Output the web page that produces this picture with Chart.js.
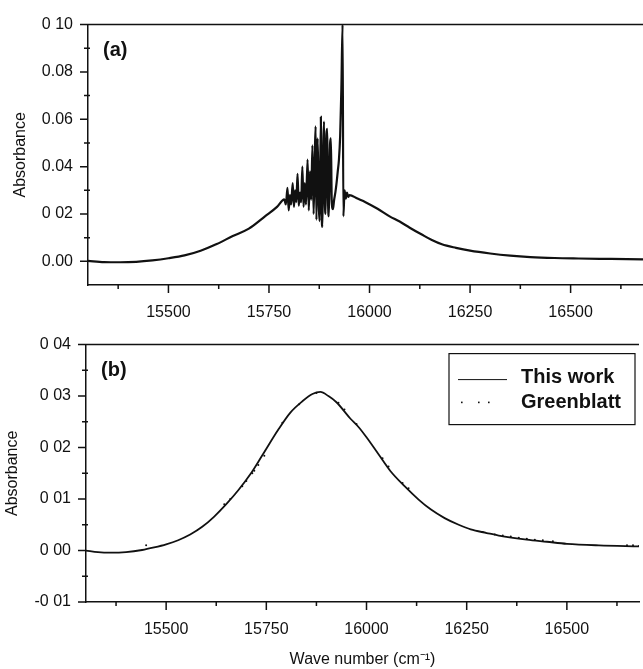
<!DOCTYPE html>
<html>
<head>
<meta charset="utf-8">
<script src="https://cdn.jsdelivr.net/npm/chart.js@4.4.1/dist/chart.umd.min.js"></script>
<style>
  body { margin: 0; background: #fff; }
  #wrapA { position: absolute; left: 0; top: 0; width: 643px; height: 320px; }
  #wrapB { position: absolute; left: 0; top: 320px; width: 643px; height: 349px; }
</style>
</head>
<body>
<div id="wrapA"><canvas id="chartA"></canvas></div>
<div id="wrapB"><canvas id="chartB"></canvas></div>
<script>
// panel (a): measured spectrum, wave number (cm-1) / absorbance
var waveA = [15300, 15340, 15380, 15420, 15460, 15500, 15540, 15580, 15620, 15660,
  15700, 15740, 15770, 15788, 15792, 15796, 15799, 15802, 15805, 15809,
  15812, 15815, 15818, 15821, 15824, 15827, 15830, 15833, 15836, 15839,
  15842, 15846, 15849, 15852, 15855, 15858, 15861, 15864, 15866, 15868,
  15871, 15874, 15876, 15879, 15881, 15883, 15885, 15887, 15889, 15891,
  15893, 15895, 15897, 15899, 15902, 15904, 15906, 15909, 15912, 15915,
  15918, 15921, 15924, 15927, 15930, 15933, 15935, 15938, 15941, 15944,
  15947, 15950, 15970, 15990, 16020, 16050, 16075, 16100, 16130, 16155,
  16180, 16215, 16250, 16300, 16350, 16400, 16460, 16520, 16600, 16680]
var absA = [0.0002, -0.0003, -0.0004, -0.0002, 0.0004, 0.0013, 0.0025, 0.0045, 0.0073, 0.0107,
  0.0138, 0.0190, 0.0230, 0.0262, 0.0240, 0.0310, 0.0215, 0.0280, 0.0240, 0.0330,
  0.0230, 0.0300, 0.0250, 0.0370, 0.0235, 0.0290, 0.0250, 0.0400, 0.0230, 0.0330,
  0.0240, 0.0430, 0.0215, 0.0380, 0.0260, 0.0490, 0.0200, 0.0450, 0.0570, 0.0175,
  0.0520, 0.0230, 0.0170, 0.0610, 0.0200, 0.0145, 0.0480, 0.0590, 0.0250, 0.0200,
  0.0540, 0.0560, 0.0240, 0.0190, 0.0500, 0.0520, 0.0260, 0.0220, 0.0260, 0.0290,
  0.0330, 0.0380, 0.0430, 0.0530, 0.0730, 0.1000, 0.0190, 0.0300, 0.0265, 0.0290,
  0.0272, 0.0280, 0.0265, 0.0250, 0.0222, 0.0190, 0.0168, 0.0142, 0.0113, 0.0090,
  0.0072, 0.0057, 0.0045, 0.0033, 0.0024, 0.0018, 0.0014, 0.0012, 0.0010, 0.0008]

// panel (b): this work
var waveB = [15300, 15330, 15360, 15400, 15440, 15470, 15500, 15530, 15560, 15590,
  15620, 15650, 15680, 15710, 15740, 15780, 15810, 15840, 15865, 15885,
  15905, 15925, 15960, 15980, 16000, 16030, 16060, 16095, 16130, 16160,
  16195, 16230, 16260, 16300, 16330, 16400, 16450, 16500, 16580, 16680]
var absB = [0.0000, -0.0003, -0.0004, -0.0003, 0.0001, 0.0006, 0.0012, 0.0020, 0.0031, 0.0046,
  0.0066, 0.0090, 0.0117, 0.0148, 0.0185, 0.0235, 0.0268, 0.0290, 0.0304, 0.0308,
  0.0300, 0.0288, 0.0256, 0.0240, 0.0220, 0.0187, 0.0154, 0.0125, 0.0099, 0.0080,
  0.0063, 0.0050, 0.0041, 0.0034, 0.0029, 0.0021, 0.0017, 0.0013, 0.0010, 0.0008]

// panel (b): Greenblatt
var waveG = [15450, 15645, 15660, 15690, 15700, 15715, 15720, 15730, 15745, 15790,
  15832, 15875, 15930, 15945, 15975, 16040, 16055, 16090, 16105, 16290,
  16320, 16340, 16360, 16380, 16400, 16420, 16440, 16465, 16650, 16665, 16680]
var absG = [0.0010, 0.0090, 0.0100, 0.0125, 0.0135, 0.0150, 0.0155, 0.0166, 0.0184, 0.0248,
  0.0284, 0.0306, 0.0287, 0.0274, 0.0246, 0.0179, 0.0163, 0.0131, 0.0121, 0.0036,
  0.0031, 0.0029, 0.0027, 0.0025, 0.0023, 0.0021, 0.0020, 0.0018, 0.0010, 0.0010, 0.0009]

// axes
var xTicks = [15500, 15750, 16000, 16250, 16500]
var xMinor = [15375, 15625, 15875, 16125, 16375, 16625]
var yTicksA = [0, 0.02, 0.04, 0.06, 0.08, 0.10]
var yLabelsA = ['0.00', '0 02', '0.04', '0.06', '0.08', '0 10']
var yMinorA = [0.01, 0.03, 0.05, 0.07, 0.09]
var yTicksB = [-0.01, 0, 0.01, 0.02, 0.03, 0.04]
var yLabelsB = ['-0 01', '0 00', '0 01', '0 02', '0 03', '0 04']
var yMinorB = [-0.005, 0.005, 0.015, 0.025, 0.035]

Chart.defaults.font.family = '"Liberation Sans", Arial, sans-serif'
Chart.defaults.font.size = 16
Chart.defaults.color = '#111'

function pairs (xs, ys) {
  return xs.map(function (x, i) { return { x: x, y: ys[i] } })
}

// top border, tick marks, panel tag and boxed legend
var frameTicks = {
  id: 'frameTicks',
  afterDraw: function (chart, args, opts) {
    var ctx = chart.ctx, a = chart.chartArea
    var xs = chart.scales.x, ys = chart.scales.y
    ctx.save()
    ctx.strokeStyle = '#111'
    ctx.lineWidth = 1.5
    ctx.beginPath()
    ctx.moveTo(a.left, a.top); ctx.lineTo(a.right, a.top)
    xTicks.forEach(function (v) { var p = xs.getPixelForValue(v); ctx.moveTo(p, a.bottom); ctx.lineTo(p, a.bottom + 8) })
    xMinor.forEach(function (v) { var p = xs.getPixelForValue(v); ctx.moveTo(p, a.bottom); ctx.lineTo(p, a.bottom + 4) })
    opts.yMajor.forEach(function (v) { var p = ys.getPixelForValue(v); ctx.moveTo(a.left, p); ctx.lineTo(a.left - 8, p) })
    opts.yMinor.forEach(function (v) { var p = ys.getPixelForValue(v); ctx.moveTo(a.left + 2, p); ctx.lineTo(a.left - 4, p) })
    ctx.stroke()

    ctx.fillStyle = '#111'
    ctx.font = 'bold 20px "Liberation Sans", Arial, sans-serif'
    ctx.textBaseline = 'middle'
    ctx.fillText(opts.tag, a.left + 15, a.top + 26)

    if (opts.legend) {
      var bx = a.right - 190, by = a.top + 9
      ctx.lineWidth = 1.2
      ctx.strokeRect(bx, by, 186, 71)
      var ds = chart.data.datasets
      ctx.beginPath()
      ctx.lineWidth = 1
      ctx.moveTo(bx + 9, by + 26); ctx.lineTo(bx + 58, by + 26)
      ctx.stroke()
      ;[12, 29, 39].forEach(function (d) { ctx.fillRect(bx + d, by + 48, 1.6, 1.6) })
      ctx.fillText(ds[0].label, bx + 72, by + 24)
      ctx.fillText(ds[1].label, bx + 72, by + 49)
    }
    ctx.restore()
  }
}

function xScale (withTitle, h) {
  return {
    type: 'linear', min: 15300, max: 16680,
    afterBuildTicks: function (s) { s.ticks = xTicks.map(function (v) { return { value: v } }) },
    afterFit: function (s) { s.height = h },
    grid: { display: false, drawTicks: false },
    border: { display: true, color: '#111', width: 1.5 },
    ticks: { padding: 18, maxRotation: 0, color: '#111', callback: function (v) { return String(v) } },
    title: { display: withTitle, text: 'Wave number (cm\u207B\u00B9)', color: '#111', padding: { top: 0, bottom: 0 } }
  }
}

function yScale (min, max, vals, labels, w, titlePad) {
  return {
    type: 'linear', min: min, max: max,
    afterBuildTicks: function (s) { s.ticks = vals.map(function (v) { return { value: v } }) },
    afterFit: function (s) { s.width = w },
    grid: { display: false, drawTicks: false },
    border: { display: true, color: '#111', width: 1.5 },
    ticks: { padding: 15, color: '#111', callback: function (v, i) { return labels[i] } },
    title: { display: true, text: 'Absorbance', color: '#111', padding: { top: titlePad, bottom: 0 } }
  }
}

new Chart(document.getElementById('chartA'), {
  type: 'scatter',
  data: {
    datasets: [{
      label: 'This work',
      data: pairs(waveA, absA),
      showLine: true,
      cubicInterpolationMode: 'monotone',
      borderColor: '#111',
      borderWidth: 2.2,
      pointRadius: 0
    }]
  },
  options: {
    responsive: true, maintainAspectRatio: false, animation: false,
    layout: { padding: { top: 17, right: 0, left: 0, bottom: 0 } },
    plugins: { legend: { display: false }, tooltip: { enabled: false },
      frameTicks: { tag: '(a)', yMajor: yTicksA, yMinor: yMinorA, legend: false } },
    scales: { x: xScale(false, 35), y: yScale(-0.01, 0.10, yTicksA, yLabelsA, 88, 11) }
  },
  plugins: [frameTicks]
})

new Chart(document.getElementById('chartB'), {
  type: 'scatter',
  data: {
    datasets: [{
      label: 'This work',
      data: pairs(waveB, absB),
      showLine: true,
      cubicInterpolationMode: 'monotone',
      borderColor: '#111',
      borderWidth: 1.8,
      pointRadius: 0
    }, {
      label: 'Greenblatt',
      data: pairs(waveG, absG),
      showLine: false,
      pointRadius: 1,
      pointBorderWidth: 0,
      backgroundColor: '#111',
      borderColor: '#111'
    }]
  },
  options: {
    responsive: true, maintainAspectRatio: false, animation: false,
    layout: { padding: { top: 13, right: 0, left: 0, bottom: 0 } },
    plugins: { legend: { display: false }, tooltip: { enabled: false },
      frameTicks: { tag: '(b)', yMajor: yTicksB, yMinor: yMinorB, legend: true } },
    scales: { x: xScale(true, 67), y: yScale(-0.01, 0.04, yTicksB, yLabelsB, 86, 3) }
  },
  plugins: [frameTicks]
})
</script>
</body>
</html>
